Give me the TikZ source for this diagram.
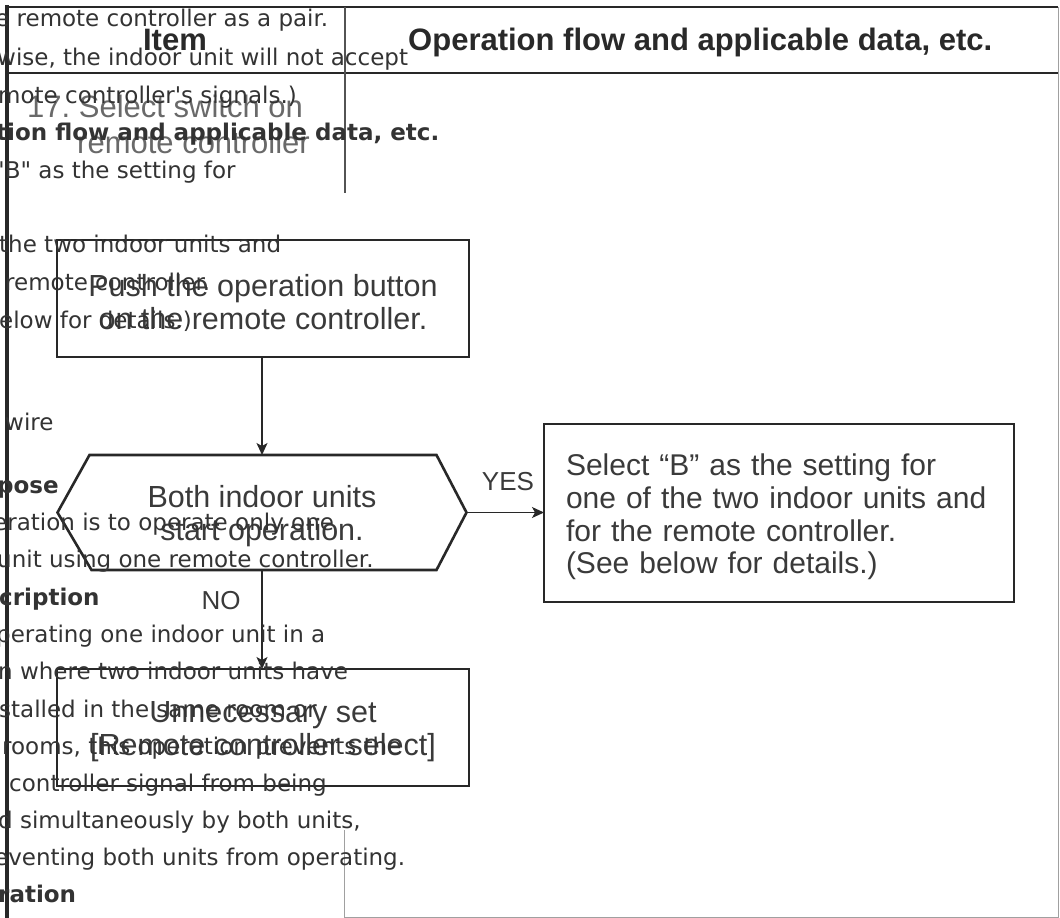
\documentclass[tikz,border=0pt]{standalone}
\usepackage{fontspec}
\setmainfont{Liberation Sans}
\newfontfamily\webfont{DejaVu Sans}
\usetikzlibrary{positioning,arrows.meta}
\definecolor{inkline}{RGB}{40,40,40}
\definecolor{inktext}{RGB}{58,58,58}
\definecolor{faintink}{RGB}{105,105,105}
\definecolor{rulegray}{RGB}{160,160,160}
\definecolor{webtext}{RGB}{51,51,51}
\newcommand{\boxlift}{\rule{0pt}{30pt}}
\tikzset{
flowbox/.style={
  draw=inkline,
  line width=2.6pt,
  inner sep=0pt,
  outer sep=0pt,
  align=center,
  text=inktext,
  font=\fontsize{30.5}{33}\selectfont
  },
flowarrow/.style={
  draw=inkline,
  line width=1.3pt,
  -{Stealth[length=12pt,width=11pt,inset=3pt]}
  },
flowlabel/.style={
  inner sep=0pt,
  text=inktext,
  font=\fontsize{26}{28}\selectfont
  },
headtext/.style={
  inner sep=0pt,
  anchor=base west,
  text=inktext!70!black,
  font=\bfseries\fontsize{31}{31}\selectfont
  },
webline/.style={
  anchor=base west,
  inner sep=0pt,
  text=webtext,
  font=\webfont\fontsize{23}{23}\selectfont
  },
webbold/.style={
  webline,
  font=\webfont\bfseries\fontsize{23}{23}\selectfont
  }
}

\begin{document}
\begin{tikzpicture}[x=1pt,y=-1pt]
    \useasboundingbox[fill=white] (0,0) rectangle (1060,918);
    % table frame
    \draw[line width=2.8pt, inkline] (6,7) -- (1058,7);
    \draw[line width=2.8pt, inkline] (6,73) -- (1058,73);
    \draw[line width=3.5pt, inkline] (7,5) -- (7,918);
    \draw[line width=1pt, rulegray] (1058,7) -- (1058,918);
    \draw[line width=1pt, rulegray] (344,917) -- (1058,917);
    \draw[line width=1.6pt, inkline!80] (345,7) -- (345,193);
    \draw[line width=1pt, rulegray] (344,830) -- (344,918);
    % header and item
    \node[headtext, anchor=base] (itemhead) at (175,50) {Item};
    \node[headtext] (flowhead) at (408,50) {Operation flow and applicable data, etc.};
    \node[headtext, font=\fontsize{31}{31}\selectfont, text=faintink] (itemname) at (27,117) {17.\ Select switch on};
    \node[headtext, font=\fontsize{31}{31}\selectfont, text=faintink] (itemrest) at (77,153) {remote controller};
    % flow
    \node[flowbox, minimum width=412pt, minimum height=117pt] (push) at (263,298.5)
        {\boxlift Push the operation button\\on the remote controller.};
    \node[flowbox, draw=none, minimum width=409pt, minimum height=115pt] (check) at (262,512.5)
        {\boxlift Both indoor units\\start operation.};
    \draw[line width=2.6pt, inkline] (check.west) -- ([xshift=32pt]check.north west)
        -- ([xshift=-30pt]check.north east) -- (check.east)
        -- ([xshift=-30pt]check.south east) -- ([xshift=34pt]check.south west) -- cycle;
    \node[flowbox, minimum width=470pt, minimum height=178pt, inner xsep=22pt, text width=426pt, align=left,
        font=\fontsize{30}{32.7}\selectfont] (selectb) at (779,513)
        {\boxlift Select “B” as the setting for\\one of the two indoor units and\\for the remote controller.\\(See below for details.)};
    \node[flowbox, minimum width=412pt, minimum height=117pt] (unneeded) at (263,727.5)
        {\boxlift Unnecessary set\\\relax[Remote controller select]};
    \draw[flowarrow] (push.south -| check.north) -- (check.north);
    \draw[flowarrow] (check.east) -- (selectb.west |- check.east);
    \draw[flowarrow] (check.south) -- (unneeded.north -| check.south);
    \node[flowlabel] (yeslabel) at (508,482) {YES};
    \node[flowlabel] (nolabel) at (221,601) {NO};
    % page text over the picture
    \foreach \wx/\wy/\wtext in {-5/27/{e remote controller as a pair.},
        -3/65/{wise, the indoor unit will not accept},
        -2/103/{mote controller\textquotesingle s signals.)},
        -6/178/{"B" as the setting for},
        -1/252/{the two indoor units and},
        5/290/{remote controller.},
        -1/328/{elow for details.)},
        5/430/{wire},
        -7/530/{eration is to operate only one},
        -3/567/{unit using one remote controller.},
        -4/642/{perating one indoor unit in a},
        -2/679/{n where two indoor units have},
        -1/717/{stalled in the same room or},
        2/754/{rooms, this operation prevents the},
        9/791/{controller signal from being},
        -2/828/{d simultaneously by both units,},
        -6/865/{eventing both units from operating.}}
        \node[webline] (web\wy) at (\wx,\wy) {\wtext};
    \foreach \wx/\wy/\wtext in {-4/140/{tion flow and applicable data, etc.},
        -3/493/{pose}, -1/605/{cription}, -2/902/{ration}}
        \node[webbold] (webb\wy) at (\wx,\wy) {\wtext};
\end{tikzpicture}
\end{document}
